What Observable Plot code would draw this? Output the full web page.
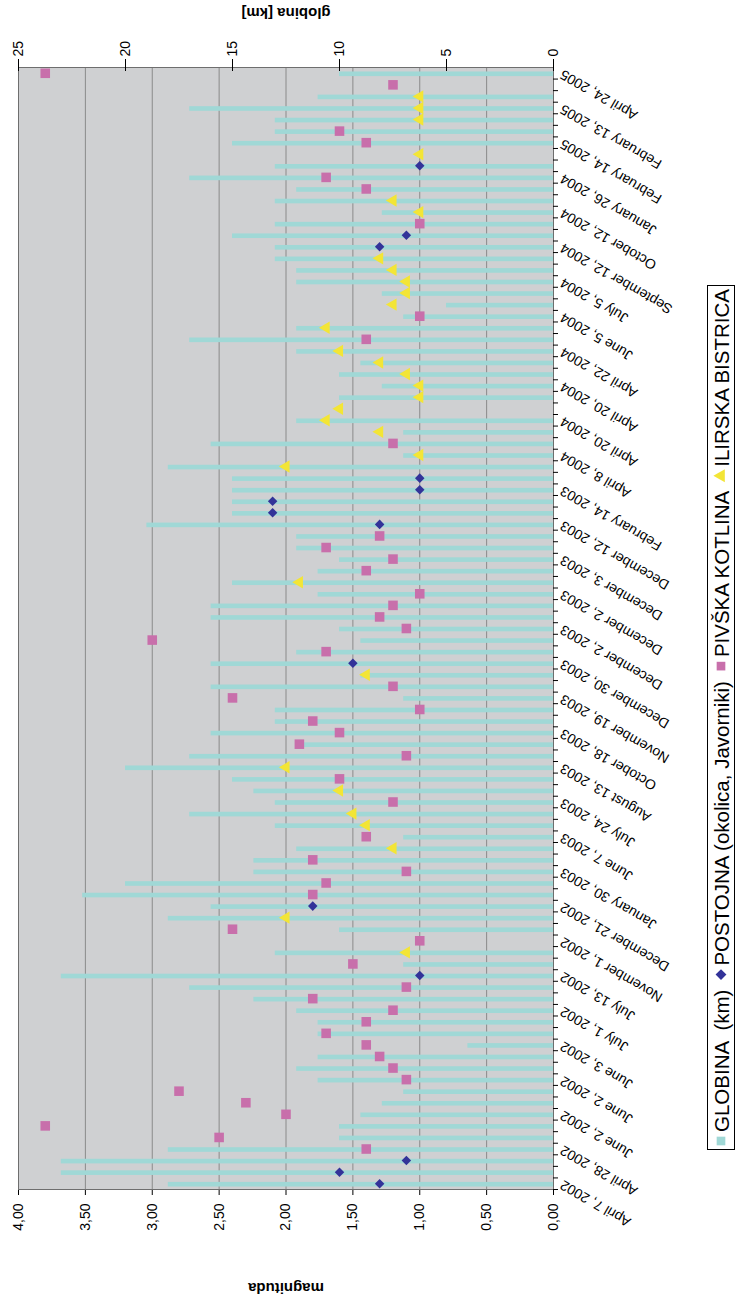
<!DOCTYPE html>
<html>
<head>
<meta charset="utf-8">
<script src="https://cdn.jsdelivr.net/npm/d3@7"></script>
<script src="https://cdn.jsdelivr.net/npm/@observablehq/plot@0.6"></script>
<style>
html, body { margin:0; padding:0; background:#fff; width:740px; height:1298px; overflow:hidden; }
#rot { position:absolute; left:0; top:0; width:1298px; height:740px; transform-origin:0 0; transform:translate(0px,1298px) rotate(-90deg); }
#chart svg { display:block; }
#legend { position:absolute; left:148px; top:707px; overflow:visible; }
</style>
</head>
<body>
<div id="rot"><div id="chart"></div><svg id="legend" width="865" height="28"></svg></div>
<script>
// ---- data (chronological order, one entry per event) ----
const depthKm = [18,23,23,18,10,10,9,8,7,11, 12,11,4,11,11,12,14,17,23,7, 13,null,10,18,16,22,20,14,14,12,
  7,13,17,13,14,15,20,17,12,16, 13,13,7,16,9,16,12,9,10,16, 16,11,15,11,10,12,12,19,15,15,
  15,15,18,7,16,7,12,null,10,8, 10,9,12,17,12,7,5,8,12,12, 13,13,15,13,8,13,12,17,13,null,
  15,13,13,17,11,null,10];
const magnitude = [1.3,1.6,1.1,1.4,2.5,3.8,2.0,2.3,2.8,1.1, 1.2,1.3,1.4,1.7,1.4,1.2,1.8,1.1,1.0,1.5,
  1.1,1.0,2.4,2.0,1.8,1.8,1.7,1.1,1.8,1.2, 1.4,1.4,1.5,1.2,1.6,1.6,2.0,1.1,1.9,1.6,
  1.8,1.0,2.4,1.2,1.4,1.5,1.7,3.0,1.1,1.3, 1.2,1.0,1.9,1.4,1.2,1.7,1.3,1.3,2.1,2.1,
  1.0,1.0,2.0,1.0,1.2,1.3,1.7,1.6,1.0,1.0, 1.1,1.3,1.6,1.4,1.7,1.0,1.2,1.1,1.1,1.2,
  1.3,1.3,1.1,1.0,1.0,1.2,1.4,1.7,1.0,1.0, 1.4,1.6,1.0,1.0,1.0,1.2,3.8];
// D = POSTOJNA, P = PIVŠKA KOTLINA, I = ILIRSKA BISTRICA
const region = ["D","D","D","P","P","P","P","P","P","P", "P","P","P","P","P","P","P","P","D","P",
  "I","P","P","I","D","P","P","P","P","I", "P","I","I","P","I","P","I","P","P","P",
  "P","P","P","P","I","D","P","P","P","P", "P","P","I","P","P","P","P","D","D","D",
  "D","D","I","I","P","I","I","I","I","I", "I","I","I","P","I","P","I","I","I","I",
  "I","D","D","P","I","I","P","P","D","I", "P","P","I","I","I","P","P"];
// labels shown on every third event
const dateLabels = ["April 7, 2002","April 28, 2002","June 2, 2002","June 2, 2002","June 3, 2002","July 1, 2002",
  "July 13, 2002","November 1, 2002","December 21, 2002","January 30, 2003","June 7, 2003","July 24, 2003",
  "August 13, 2003","October 18, 2003","November 19, 2003","December 30, 2003","December 2, 2003","December 2, 2003",
  "December 3, 2003","December 12, 2003","February 14, 2003","April 8, 2004","April 20, 2004","April 20, 2004",
  "April 22, 2004","June 5, 2004","July 5, 2004","September 12, 2004","October 12, 2004","January 26, 2004",
  "February 14, 2005","February 13, 2005","April 24, 2005"];
const magTicks = [0,0.5,1,1.5,2,2.5,3,3.5,4];
const kmTicks = [0,5,10,15,20,25];
const legendLabels = ["GLOBINA  (km)", "POSTOJNA (okolica, Javorniki)", "PIVŠKA KOTLINA", "ILIRSKA BISTRICA"];

// ---- layout (original landscape chart, rotated afterwards) ----
const W = 1298, H = 740;
const mL = 108, mR = 68, mT = 18, mB = 187;
const kmToMag = 4 / 25;
const idx = d3.range(depthKm.length);
const step = (W - mL - mR) / idx.length;
const rows = idx.map(i => ({i, depth: depthKm[i], mag: magnitude[i], region: region[i]}));
const fmtMag = d => d.toFixed(2).replace(".", ",");
const font = "'Liberation Sans', Arial, sans-serif";

const chart = Plot.plot({
  width: W, height: H,
  marginLeft: mL, marginRight: mR, marginTop: mT, marginBottom: mB,
  style: {fontFamily: font, fontSize: "14px", background: "transparent", overflow: "visible", color: "#000"},
  x: {type: "band", domain: idx, paddingInner: 0.6, paddingOuter: 0.3, label: null},
  y: {domain: [0, 4], label: null},
  marks: [
    Plot.frame({fill: "#cfd0d2"}),
    Plot.gridY(magTicks, {stroke: "#8a8a8a", strokeOpacity: 1}),
    Plot.barY(rows.filter(d => d.depth != null), {x: "i", y: d => d.depth * kmToMag, fill: "#a0d8d6"}),
    Plot.dot(rows.filter(d => d.region === "D"), {x: "i", y: "mag", symbol: "diamond2", r: 4.3, fill: "#333399"}),
    Plot.dot(rows.filter(d => d.region === "P"), {x: "i", y: "mag", symbol: "square", r: 5.4, fill: "#c86fab"}),
    Plot.dot(rows.filter(d => d.region === "I"), {x: "i", y: "mag", symbol: "triangle", r: 4.6, fill: "#f3e536"}),
    Plot.frame({stroke: "#6e6e6e"}),
    Plot.axisY(magTicks, {anchor: "left", tickSize: 5, tickPadding: 9, tickFormat: fmtMag, fontSize: 14, label: null}),
    Plot.axisY(kmTicks.map(k => k * kmToMag), {anchor: "right", tickSize: 12, dx: -4, tickPadding: 3,
      tickFormat: d => String(Math.round(d / kmToMag)), fontSize: 14, label: null}),
    Plot.axisX(idx, {anchor: "bottom", tickSize: 5, dx: -step / 2, tickFormat: () => "", label: null}),
    Plot.axisX(idx.filter(i => i % 3 === 0), {anchor: "bottom", tickSize: 0, tickPadding: 8, tickRotate: -60,
      tickFormat: i => dateLabels[i / 3], fontSize: 14, label: null}),
    Plot.text(["magnituda"], {frameAnchor: "left", text: d => d, rotate: -90, dx: -98, textAnchor: "middle",
      fontWeight: "bold", fontSize: 15}),
    Plot.text(["globina [km]"], {frameAnchor: "right", text: d => d, rotate: -90, dx: 55, textAnchor: "middle",
      fontWeight: "bold", fontSize: 15})
  ]
});
document.getElementById("chart").appendChild(chart);

// ---- legend (below the chart in landscape orientation), items packed to fill the box ----
const legendColors = ["#a0d8d6", "#333399", "#c86fab", "#f3e536"];
const legendSymbols = [d3.symbolSquare, d3.symbolDiamond2, d3.symbolSquare, d3.symbolTriangle];
const lg = d3.select("#legend");
const LW = 865, LH = 28, symW = 14, itemGap = 10, pad = 4;
lg.append("rect").attr("x", 0.5).attr("y", 0.5).attr("width", LW - 1).attr("height", LH - 1)
  .attr("fill", "#fff").attr("stroke", "#000");
const items = legendLabels.map((t, k) => {
  const g = lg.append("g");
  g.append("path").attr("d", d3.symbol(legendSymbols[k], 75)()).attr("transform", `translate(5,${LH / 2})`)
    .attr("fill", legendColors[k]);
  const txt = g.append("text").attr("x", symW).attr("y", LH / 2).attr("dy", "0.36em")
    .style("white-space", "pre")
    .attr("font-family", "'Liberation Sans Narrow', 'Arial Narrow', 'Liberation Sans', sans-serif")
    .attr("font-size", 21).text(t);
  return {g, txt, natural: txt.node().getComputedTextLength()};
});
const avail = LW - 2 * pad - items.length * symW - (items.length - 1) * itemGap;
const scale = avail / d3.sum(items, d => d.natural);
let cx = pad;
items.forEach(it => {
  const len = it.natural * scale;
  it.txt.attr("textLength", len).attr("lengthAdjust", "spacingAndGlyphs");
  it.g.attr("transform", `translate(${cx},0)`);
  cx += symW + len + itemGap;
});
</script>
</body>
</html>
